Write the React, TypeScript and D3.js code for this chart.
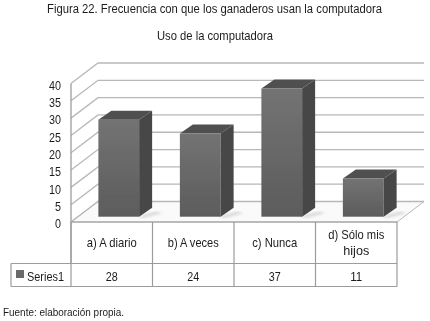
import React, { useEffect, useRef } from 'react';
import * as d3 from 'd3';

const categories = ['a) A diario', 'b) A veces', 'c) Nunca', 'd) Sólo mis hijos'];
const values = [28, 24, 37, 11];
const yTicks = [0, 5, 10, 15, 20, 25, 30, 35, 40];
const seriesName = 'Series1';

const WIDTH = 430;
const HEIGHT = 321;
const FONT = '"Liberation Sans", Arial, sans-serif';
const TEXT = '#1c1c1c';
const GRID = '#b8b8b8';
const TABLE_LINE = '#9c9c9c';

// front plane of the 3D box, and how far the back wall is shifted from it
const FRONT_LEFT = 71;
const FRONT_RIGHT = 397;
const FRONT_BOTTOM = 222;
const FRONT_TOP = 83.5;
const DEPTH_X = 27;
const DEPTH_Y = -20.5;
// bars stand a bit behind the front edge
const BAR_SHIFT_X = 7;
const BAR_SHIFT_Y = -5.3;
const BAR_DEPTH_X = 13;
const BAR_DEPTH_Y = -9;

const TABLE_LEFT = 11;
const TABLE_MID = 263.5;
const TABLE_BOTTOM = 286.5;

const App = () => {
  const svgRef = useRef<SVGSVGElement>(null);

  useEffect(() => {
    const root = d3.select(svgRef.current);
    root.selectAll('*').remove();

    const defs = root.append('defs');
    const front = defs.append('linearGradient').attr('id', 'barFront').attr('x1', 0).attr('x2', 0).attr('y1', 0).attr('y2', 1);
    front.append('stop').attr('offset', '0%').attr('stop-color', '#737373');
    front.append('stop').attr('offset', '100%').attr('stop-color', '#5c5c5c');
    defs.append('filter').attr('id', 'soft').append('feGaussianBlur').attr('stdDeviation', 1.4);
    // the source is a soft scan, everything is slightly out of focus
    defs.append('filter').attr('id', 'scan').append('feGaussianBlur').attr('stdDeviation', 0.35);

    const svg = root.append('g').attr('filter', 'url(#scan)');
    svg.append('rect').attr('width', WIDTH).attr('height', HEIGHT).attr('fill', '#fff');

    const x = d3.scaleBand<string>().domain(categories).range([FRONT_LEFT, FRONT_RIGHT]).paddingInner(0.5).paddingOuter(0.25);
    const band = d3.scaleBand<string>().domain(categories).range([FRONT_LEFT, FRONT_RIGHT]);
    const y = d3.scaleLinear().domain([0, 40]).range([FRONT_BOTTOM, FRONT_TOP]);

    const label = (txt: string, tx: number, ty: number, size: number, len: number, anchor = 'middle') =>
      svg
        .append('text')
        .attr('x', tx)
        .attr('y', ty)
        .attr('text-anchor', anchor)
        .attr('font-family', FONT)
        .attr('font-size', size)
        .attr('fill', TEXT)
        .attr('textLength', len)
        .attr('lengthAdjust', 'spacingAndGlyphs')
        .text(txt);

    label('Figura 22. Frecuencia con que los ganaderos usan la computadora', 214.5, 13, 12.5, 335);
    label('Uso de la computadora', 215, 40, 13, 116);
    label('Fuente: elaboración propia.', 3, 316, 11.5, 121, 'start');

    // floor and gridlines running across the walls
    svg
      .append('path')
      .attr('d', `M${FRONT_LEFT},${FRONT_BOTTOM}l${DEPTH_X},${DEPTH_Y}H${FRONT_RIGHT + DEPTH_X}L${FRONT_RIGHT},${FRONT_BOTTOM}Z`)
      .attr('fill', '#fafafa')
      .attr('stroke', '#b8b8b8')
      .attr('stroke-width', 1);

    svg
      .append('g')
      .selectAll('polyline')
      .data(yTicks)
      .enter()
      .append('polyline')
      .attr('fill', 'none')
      .attr('stroke', GRID)
      .attr('stroke-width', 1.3)
      .attr('points', (d) => {
        const yy = y(d);
        return `${FRONT_LEFT},${yy} ${FRONT_LEFT + DEPTH_X},${yy + DEPTH_Y} ${FRONT_RIGHT + DEPTH_X},${yy + DEPTH_Y}`;
      });

    // left wall edge
    svg
      .append('line')
      .attr('x1', FRONT_LEFT)
      .attr('x2', FRONT_LEFT)
      .attr('y1', y(40))
      .attr('y2', TABLE_MID)
      .attr('stroke', TABLE_LINE)
      .attr('stroke-width', 1.3);

    const bars = svg
      .append('g')
      .selectAll('g')
      .data(categories.map((name, i) => ({ name, value: values[i] })))
      .enter()
      .append('g');

    const barLeft = (name: string) => (x(name) as number) + BAR_SHIFT_X;
    const barTop = (v: number) => y(v) + BAR_SHIFT_Y;
    const barBase = y(0) + BAR_SHIFT_Y;

    // floor shadow
    bars
      .append('path')
      .attr('d', (d) => {
        const r = barLeft(d.name) + x.bandwidth();
        return `M${r - 2},${barBase}l${BAR_DEPTH_X + 6},${BAR_DEPTH_Y + 4}l6,1L${r + 4},${barBase + 1}Z`;
      })
      .attr('fill', '#cfcfcf')
      .attr('filter', 'url(#soft)');

    bars
      .append('rect')
      .attr('x', (d) => barLeft(d.name))
      .attr('y', (d) => barTop(d.value))
      .attr('width', x.bandwidth())
      .attr('height', (d) => barBase - barTop(d.value))
      .attr('fill', 'url(#barFront)');

    bars
      .append('path')
      .attr('d', (d) => {
        const r = barLeft(d.name) + x.bandwidth();
        return `M${r},${barTop(d.value)}l${BAR_DEPTH_X},${BAR_DEPTH_Y}V${barBase + BAR_DEPTH_Y}L${r},${barBase}Z`;
      })
      .attr('fill', '#474747');

    bars
      .append('path')
      .attr('d', (d) => {
        const l = barLeft(d.name);
        return `M${l},${barTop(d.value)}l${BAR_DEPTH_X},${BAR_DEPTH_Y}h${x.bandwidth()}l${-BAR_DEPTH_X},${-BAR_DEPTH_Y}Z`;
      })
      .attr('fill', '#505050');

    // y axis labels, they sit a little lower than their gridlines
    const axis = svg
      .append('g')
      .attr('transform', `translate(${FRONT_LEFT - 10},1.5)`)
      .call(d3.axisLeft(y).tickValues(yTicks).tickSize(0).tickPadding(0));
    axis.select('.domain').remove();
    axis
      .selectAll<SVGTextElement, number>('text')
      .attr('font-family', FONT)
      .attr('font-size', 13)
      .attr('fill', TEXT)
      .attr('textLength', (d) => (d < 10 ? 6 : 12))
      .attr('lengthAdjust', 'spacingAndGlyphs');

    // data table under the chart
    const table = svg.append('g').attr('stroke', TABLE_LINE).attr('stroke-width', 1.2).attr('fill', 'none');
    table.append('line').attr('x1', FRONT_LEFT).attr('x2', FRONT_RIGHT).attr('y1', FRONT_BOTTOM).attr('y2', FRONT_BOTTOM);
    table.append('line').attr('x1', TABLE_LEFT).attr('x2', FRONT_RIGHT).attr('y1', TABLE_MID).attr('y2', TABLE_MID);
    table.append('line').attr('x1', TABLE_LEFT).attr('x2', FRONT_RIGHT).attr('y1', TABLE_BOTTOM).attr('y2', TABLE_BOTTOM);
    table.append('line').attr('x1', TABLE_LEFT).attr('x2', TABLE_LEFT).attr('y1', TABLE_MID).attr('y2', TABLE_BOTTOM);
    table
      .selectAll('line.col')
      .data([...categories.map((c) => band(c) as number), FRONT_RIGHT])
      .enter()
      .append('line')
      .attr('class', 'col')
      .attr('x1', (d) => d)
      .attr('x2', (d) => d)
      .attr('y1', FRONT_BOTTOM)
      .attr('y2', TABLE_BOTTOM);

    const labelWidths = [50, 51, 45, 0];
    categories.forEach((c, i) => {
      const cx = (band(c) as number) + band.bandwidth() / 2;
      if (c.length > 14) {
        label('d) Sólo mis', cx, 239, 13, 56);
        label('hijos', cx, 255, 13, 26);
      } else {
        label(c, cx, 247, 13, labelWidths[i]);
      }
      label(String(values[i]), cx, 281, 13, String(values[i]).length * 6);
    });

    svg.append('rect').attr('x', 16).attr('y', 270).attr('width', 8).attr('height', 8).attr('fill', '#6a6a6a');
    label(seriesName, 27, 281, 13, 37, 'start');
  }, []);

  return (
    <svg
      ref={svgRef}
      width={WIDTH}
      height={HEIGHT}
      style={{ position: 'absolute', left: 0, top: 0, display: 'block' }}
    />
  );
};

export default App;
